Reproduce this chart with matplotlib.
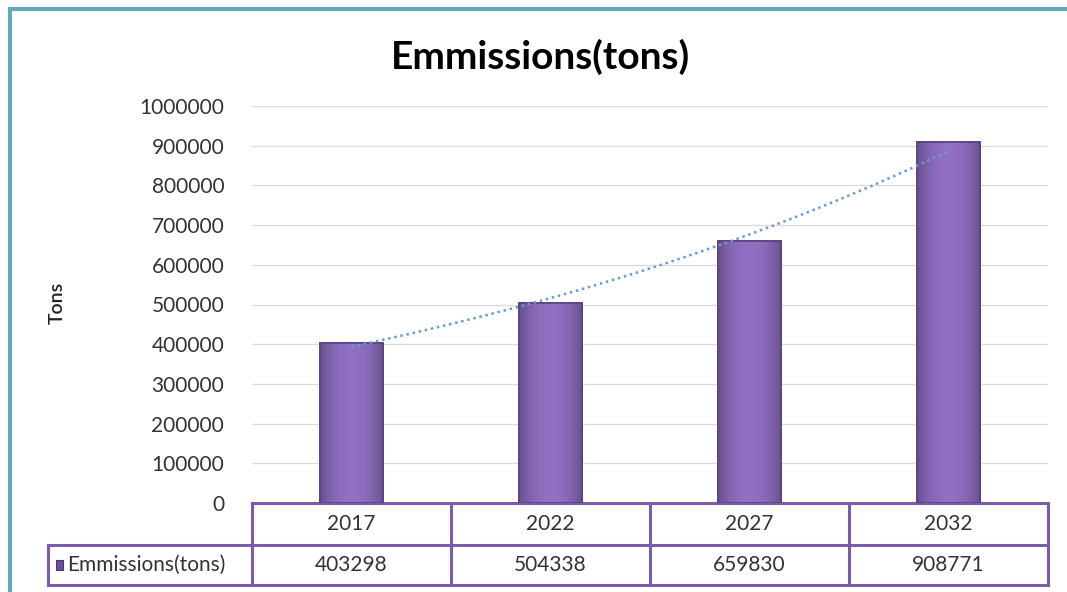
import numpy as np
import matplotlib.pyplot as plt
from matplotlib.patches import Rectangle
from matplotlib.transforms import blended_transform_factory

years = ['2017', '2022', '2027', '2032']
emissions = [403298, 504338, 659830, 908771]
series_name = 'Emmissions(tons)'
yticks = list(range(0, 1000001, 100000))

plt.rcParams['font.family'] = ['Lato', 'DejaVu Sans']

W, H = 1067, 592
fig = plt.figure(figsize=(W / 100, H / 100), dpi=100)
fig.patch.set_facecolor('white')

# outer teal frame (cropped at right/bottom)
fig.add_artist(Rectangle((10 / W, -0.05), 1.1, 1 - 9 / H + 0.05, transform=fig.transFigure,
                         fill=False, edgecolor='#62a9b9', lw=3))

x0, x1 = 252, 1048
ytop, ybot = 106, 503
ax = fig.add_axes([x0 / W, 1 - ybot / H, (x1 - x0) / W, (ybot - ytop) / H])
x = np.arange(len(years))
ax.set_xlim(-0.5, len(years) - 0.5)
ax.set_ylim(0, 1000000)
ax.set_yticks(yticks)
ax.set_yticklabels([str(v) for v in yticks], fontsize=15, color='#333333')
ax.tick_params(axis='y', length=0, pad=20)
ax.set_xticks([])
for s in ax.spines.values():
    s.set_visible(False)
ax.grid(axis='y', color='#dcdcdc', lw=1)
ax.set_axisbelow(True)

# bars with horizontal gradient
bw = 0.32
grad = np.linspace(-1, 1, 64)
shade = 1 - 0.28 * np.abs(grad) ** 2
base = np.array([0.57, 0.44, 0.77])
img = (base[None, :] * shade[:, None])[None, :, :]
for xi, v in zip(x, emissions):
    r = Rectangle((xi - bw / 2, 0), bw, v, facecolor='#8a6cbc', edgecolor='#5a4282', lw=1.2, zorder=3)
    ax.add_patch(r)
    im = ax.imshow(img, extent=(xi - bw / 2, xi + bw / 2, 0, v), aspect='auto', zorder=3.5)
    im.set_clip_path(r)
    ax.add_patch(Rectangle((xi - bw / 2, 0), bw, v, fill=False, edgecolor='#5a4282', lw=1.2, zorder=4))

# exponential trendline
b, a = np.polyfit(x, np.log(emissions), 1)
xs = np.linspace(0, len(years) - 1, 200)
ax.plot(xs, np.exp(a + b * xs), ls=(0, (1, 1.5)), color='#6a9bd1', lw=1.8, zorder=5)

fig.text(57 / W, 1 - 303 / H, 'Tons', rotation=90, ha='center', va='center',
         fontsize=14, fontweight='semibold', color='#222222')
fig.text(541 / W, 1 - 57 / H, series_name, ha='center', va='center', fontsize=28, fontweight='bold')

# data table under the plot
tr = blended_transform_factory(ax.transData, ax.transAxes)
rh = 42 / (ybot - ytop)
rh2 = 40 / (ybot - ytop)
left = -0.5 - (x0 - 48) / ((x1 - x0) / len(years))
tc = '#7b5ca8'
kw = dict(transform=tr, color=tc, lw=2.2, clip_on=False, solid_capstyle='projecting')
ax.plot([-0.5, len(years) - 0.5], [0, 0], **kw)
ax.plot([left, len(years) - 0.5], [-rh, -rh], **kw)
ax.plot([left, len(years) - 0.5], [-rh - rh2, -rh - rh2], **kw)
ax.plot([left, left], [-rh, -rh - rh2], **kw)
for e in np.arange(-0.5, len(years), 1.0):
    ax.plot([e, e], [0, -rh - rh2], **kw)
for xi, yr, v in zip(x, years, emissions):
    ax.text(xi, -rh / 2, yr, transform=tr, ha='center', va='center', fontsize=15, color='#333333')
    ax.text(xi, -rh - rh2 / 2, str(v), transform=tr, ha='center', va='center', fontsize=15, color='#333333')
ax.add_patch(Rectangle((left + 0.04, -rh - rh2 / 2 - 0.013), 0.035, 0.026, transform=tr,
                       facecolor='#6a4f9c', edgecolor='#4a3570', lw=0.8, clip_on=False))
ax.text(left + 0.095, -rh - rh2 / 2, series_name, transform=tr, ha='left', va='center',
        fontsize=15, color='#333333')

fig.savefig('out.png', dpi=100)
